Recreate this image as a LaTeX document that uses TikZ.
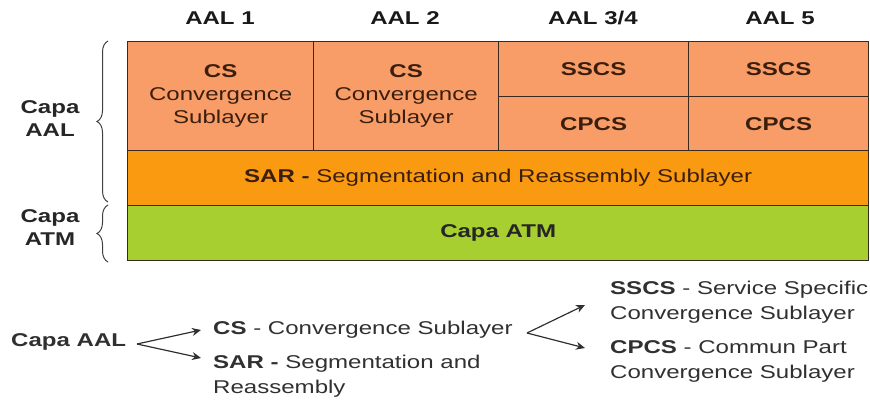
\documentclass[tikz,border=0pt]{standalone}
\usepackage{fontspec}
\setmainfont{Liberation Sans}[FakeStretch=1.3]
\usetikzlibrary{arrows.meta,decorations.pathreplacing}

\definecolor{cellfill}{HTML}{F99D68}
\definecolor{sarfill}{HTML}{FA9A10}
\definecolor{atmfill}{HTML}{A8CF30}
\definecolor{edge}{HTML}{3A2A1E}
\definecolor{celltext}{HTML}{3A1E0E}
\definecolor{notetext}{HTML}{303030}

\begin{document}
\begin{tikzpicture}[x=1pt,y=-1pt,
  txt/.style={font=\fontsize{18.5}{23}\selectfont, inner sep=0pt, align=center},
  cell/.style={txt, draw=edge, line width=1.3pt, fill=cellfill, text=celltext, anchor=north west},
  band/.style={cell, minimum width=741pt, minimum height=55pt},
  head/.style={txt, font=\fontsize{18.5}{23}\selectfont\bfseries, text=black!90},
  side/.style={txt, font=\fontsize{18.5}{23}\selectfont\bfseries, text=black!85},
  note/.style={font=\fontsize{18.5}{25}\selectfont, inner sep=0pt, align=left, anchor=west, text=notetext},
  fork/.style={draw=notetext, line width=1.2pt, -{Stealth[length=9pt,width=8pt]}},
  bracket/.style={draw=black!75, line width=1pt, decorate, decoration={brace, amplitude=11pt}}
]
\useasboundingbox (0,0) rectangle (870,401);

% column headings
\node[head] (h1) at (220,18) {AAL 1};
\node[head] (h2) at (405,18) {AAL 2};
\node[head] (h3) at (593,18) {AAL 3/4};
\node[head] (h4) at (780,18) {AAL 5};

% upper AAL cells
\node[cell, minimum width=186pt, minimum height=109pt] (cs1) at (127,41)
  {\textbf{CS}\\Convergence\\Sublayer};
\node[cell, minimum width=185pt, minimum height=109pt] (cs2) at (313,41)
  {\textbf{CS}\\Convergence\\Sublayer};
\node[cell, minimum width=190pt, minimum height=55pt] (sscs3) at (498,41) {\textbf{SSCS}};
\node[cell, minimum width=190pt, minimum height=54pt] (cpcs3) at (498,96) {\textbf{CPCS}};
\node[cell, minimum width=180pt, minimum height=55pt] (sscs5) at (688,41) {\textbf{SSCS}};
\node[cell, minimum width=180pt, minimum height=54pt] (cpcs5) at (688,96) {\textbf{CPCS}};

% SAR and ATM bands
\node[band, fill=sarfill] (sar) at (127,150)
  {\textbf{SAR -} Segmentation and Reassembly Sublayer};
\node[band, fill=atmfill, text=black!85] (atm) at (127,205) {\textbf{Capa ATM}};

% side labels with braces
\node[side] (capaaal) at (50,119) {Capa\\AAL};
\node[side] (capaatm) at (50,228) {Capa\\ATM};
\draw[bracket] (108,202) -- (108,41);
\draw[bracket] (108,262) -- (108,205);

% lower legend
\node[note, font=\fontsize{18.5}{25}\selectfont\bfseries] (lcapa) at (11,342) {Capa AAL};
\node[note] (lcs) at (213,330) {\textbf{CS} - Convergence Sublayer};
\node[note, anchor=north west] (lsar) at (213,355) {\textbf{SAR -} Segmentation and\\Reassembly};
\node[note, anchor=north west] (lsscs) at (610,281) {\textbf{SSCS} - Service Specific\\Convergence Sublayer};
\node[note, anchor=north west] (lcpcs) at (610,340) {\textbf{CPCS} - Commun Part\\Convergence Sublayer};

\coordinate (forkA) at (137,344);
\coordinate (forkB) at (527,333);
\draw[fork] (forkA) -- ([shift={(-12,0)}]lcs.west);
\draw[fork] (forkA) -- ([shift={(-12,3)}]lsar.north west);
\draw[fork] (forkB) -- ([shift={(-25,24)}]lsscs.north west);
\draw[fork] (forkB) -- ([shift={(-25,8)}]lcpcs.north west);
\end{tikzpicture}
\end{document}
